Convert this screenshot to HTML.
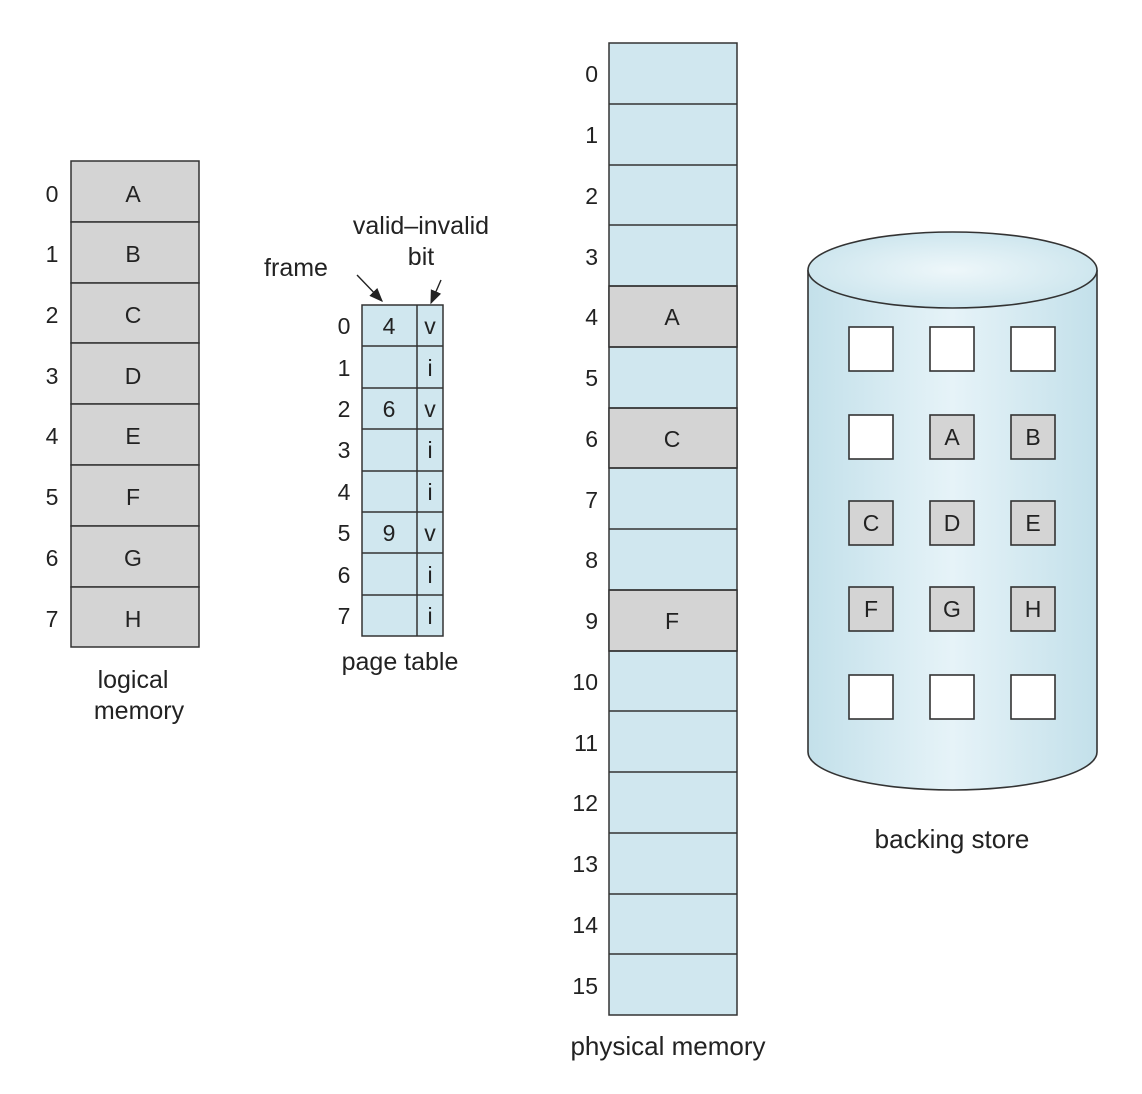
<!DOCTYPE html>
<html><head><meta charset="utf-8"><style>
html,body{margin:0;padding:0;background:#fff}
svg{display:block}
text{font-family:"Liberation Sans",sans-serif;fill:#222}
</style></head><body>
<svg width="1142" height="1094" viewBox="0 0 1142 1094" xmlns="http://www.w3.org/2000/svg">
<defs>
<linearGradient id="cyl" x1="0" x2="1" y1="0" y2="0">
<stop offset="0" stop-color="#c3e0ea"/><stop offset="0.5" stop-color="#e6f3f8"/><stop offset="1" stop-color="#c3e0ea"/>
</linearGradient>
<radialGradient id="top" cx="0.5" cy="0.5" r="0.6">
<stop offset="0" stop-color="#eef7fa"/><stop offset="1" stop-color="#c8e3ec"/>
</radialGradient>
<marker id="ah" viewBox="0 0 10 10" refX="9" refY="5" markerWidth="10" markerHeight="10" orient="auto"><path d="M0,1 L10,5 L0,9 z" fill="#222"/></marker>
</defs>
<g stroke="#333" stroke-width="1.5" fill="#d4d4d4">
<rect x="71" y="161" width="128" height="61"/><rect x="71" y="222" width="128" height="61"/>
<rect x="71" y="283" width="128" height="60"/><rect x="71" y="343" width="128" height="61"/>
<rect x="71" y="404" width="128" height="61"/><rect x="71" y="465" width="128" height="61"/>
<rect x="71" y="526" width="128" height="61"/><rect x="71" y="587" width="128" height="60"/>
</g>
<g font-size="23" text-anchor="middle">
<text x="133" y="202">A</text><text x="133" y="262">B</text><text x="133" y="323">C</text><text x="133" y="384">D</text>
<text x="133" y="444">E</text><text x="133" y="505">F</text><text x="133" y="566">G</text><text x="133" y="627">H</text>
<text x="52" y="202">0</text><text x="52" y="262">1</text><text x="52" y="323">2</text><text x="52" y="384">3</text>
<text x="52" y="444">4</text><text x="52" y="505">5</text><text x="52" y="566">6</text><text x="52" y="627">7</text>
</g>
<g font-size="25" text-anchor="middle">
<text x="133" y="688">logical</text><text x="139" y="719">memory</text>
</g>
<!-- page table -->
<g stroke="#333" stroke-width="1.5" fill="#d0e7ef">
<rect x="362" y="305" width="81" height="331"/>
<line x1="417" y1="305" x2="417" y2="636"/>
<line x1="362" y1="346" x2="443" y2="346"/><line x1="362" y1="388" x2="443" y2="388"/>
<line x1="362" y1="429" x2="443" y2="429"/><line x1="362" y1="471" x2="443" y2="471"/>
<line x1="362" y1="512" x2="443" y2="512"/><line x1="362" y1="553" x2="443" y2="553"/>
<line x1="362" y1="595" x2="443" y2="595"/>
</g>
<g font-size="23" text-anchor="middle">
<text x="344" y="334">0</text><text x="344" y="376">1</text><text x="344" y="417">2</text><text x="344" y="458">3</text>
<text x="344" y="500">4</text><text x="344" y="541">5</text><text x="344" y="583">6</text><text x="344" y="624">7</text>
<text x="389" y="334">4</text><text x="389" y="417">6</text><text x="389" y="541">9</text>
<text x="430" y="334">v</text><text x="430" y="376">i</text><text x="430" y="417">v</text><text x="430" y="458">i</text>
<text x="430" y="500">i</text><text x="430" y="541">v</text><text x="430" y="583">i</text><text x="430" y="624">i</text>
</g>
<g font-size="25" text-anchor="middle">
<text x="400" y="670">page table</text>
<text x="296" y="276">frame</text>
<text x="421" y="234">valid–invalid</text>
<text x="421" y="265">bit</text>
</g>
<line x1="357" y1="275" x2="382" y2="301" stroke="#222" stroke-width="1.4" marker-end="url(#ah)"/>
<line x1="441" y1="280" x2="431" y2="303" stroke="#222" stroke-width="1.4" marker-end="url(#ah)"/>
<!-- physical memory -->
<g stroke="#333" stroke-width="1.5" fill="#d0e7ef">
<rect x="609" y="43" width="128" height="972"/>
<rect x="609" y="286" width="128" height="61" fill="#d4d4d4"/>
<rect x="609" y="408" width="128" height="60" fill="#d4d4d4"/>
<rect x="609" y="590" width="128" height="61" fill="#d4d4d4"/>
<line x1="609" y1="104" x2="737" y2="104"/><line x1="609" y1="165" x2="737" y2="165"/>
<line x1="609" y1="225" x2="737" y2="225"/><line x1="609" y1="286" x2="737" y2="286"/>
<line x1="609" y1="347" x2="737" y2="347"/><line x1="609" y1="408" x2="737" y2="408"/>
<line x1="609" y1="468" x2="737" y2="468"/><line x1="609" y1="529" x2="737" y2="529"/>
<line x1="609" y1="590" x2="737" y2="590"/><line x1="609" y1="651" x2="737" y2="651"/>
<line x1="609" y1="711" x2="737" y2="711"/><line x1="609" y1="772" x2="737" y2="772"/>
<line x1="609" y1="833" x2="737" y2="833"/><line x1="609" y1="894" x2="737" y2="894"/>
<line x1="609" y1="954" x2="737" y2="954"/>
</g>
<g font-size="23" text-anchor="end">
<text x="598" y="82">0</text><text x="598" y="143">1</text><text x="598" y="204">2</text><text x="598" y="265">3</text>
<text x="598" y="325">4</text><text x="598" y="386">5</text><text x="598" y="447">6</text><text x="598" y="508">7</text>
<text x="598" y="568">8</text><text x="598" y="629">9</text><text x="598" y="690">10</text><text x="598" y="751">11</text>
<text x="598" y="811">12</text><text x="598" y="872">13</text><text x="598" y="933">14</text><text x="598" y="994">15</text>
</g>
<g font-size="23" text-anchor="middle">
<text x="672" y="325">A</text><text x="672" y="447">C</text><text x="672" y="629">F</text>
</g>
<g font-size="26" text-anchor="middle">
<text x="668" y="1055">physical memory</text>
<text x="952" y="848">backing store</text>
</g>
<!-- cylinder -->
<path d="M808,270 L808,752 A144.5,38 0 0 0 1097,752 L1097,270" fill="url(#cyl)" stroke="#333" stroke-width="1.6"/>
<ellipse cx="952.5" cy="270" rx="144.5" ry="38" fill="url(#top)" stroke="#333" stroke-width="1.6"/>
<g stroke="#333" stroke-width="1.6">
<rect x="849" y="327" width="44" height="44" fill="#fff"/><rect x="930" y="327" width="44" height="44" fill="#fff"/><rect x="1011" y="327" width="44" height="44" fill="#fff"/>
<rect x="849" y="415" width="44" height="44" fill="#fff"/><rect x="930" y="415" width="44" height="44" fill="#d4d4d4"/><rect x="1011" y="415" width="44" height="44" fill="#d4d4d4"/>
<rect x="849" y="501" width="44" height="44" fill="#d4d4d4"/><rect x="930" y="501" width="44" height="44" fill="#d4d4d4"/><rect x="1011" y="501" width="44" height="44" fill="#d4d4d4"/>
<rect x="849" y="587" width="44" height="44" fill="#d4d4d4"/><rect x="930" y="587" width="44" height="44" fill="#d4d4d4"/><rect x="1011" y="587" width="44" height="44" fill="#d4d4d4"/>
<rect x="849" y="675" width="44" height="44" fill="#fff"/><rect x="930" y="675" width="44" height="44" fill="#fff"/><rect x="1011" y="675" width="44" height="44" fill="#fff"/>
</g>
<g font-size="23" text-anchor="middle">
<text x="952" y="445">A</text><text x="1033" y="445">B</text>
<text x="871" y="531">C</text><text x="952" y="531">D</text><text x="1033" y="531">E</text>
<text x="871" y="617">F</text><text x="952" y="617">G</text><text x="1033" y="617">H</text>
</g>
</svg>
</body></html>
